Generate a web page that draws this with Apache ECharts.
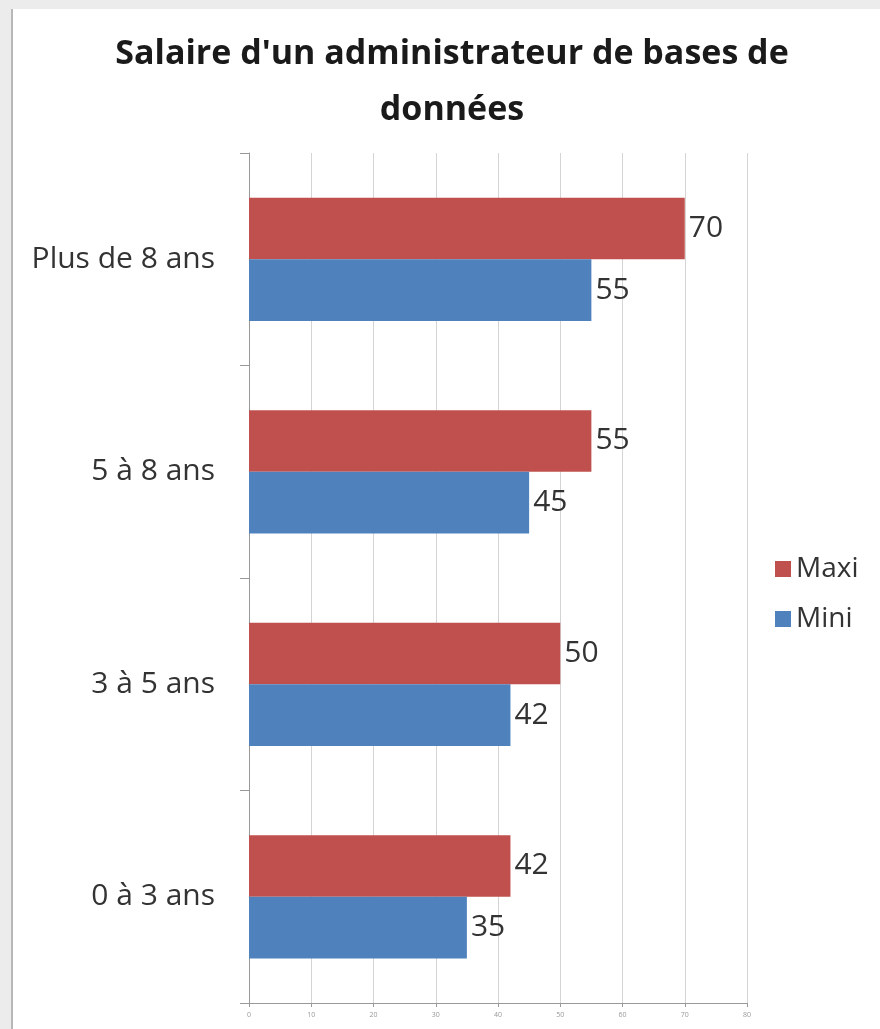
<!DOCTYPE html>
<html>
<head>
<meta charset="utf-8">
<script src="https://cdn.jsdelivr.net/npm/echarts@6/dist/echarts.min.js"></script>
<style>
    html, body { margin: 0; padding: 0; background: #ececec; }
    #chart { position: absolute; left: 11px; top: 9px; width: 869px; height: 1020px; background: #fff; border-left: 2px solid #b8b8b8; }
</style>
</head>
<body>
<div id="chart"></div>
<script>
// salaire (k€) par ancienneté
let categories = ['0 à 3 ans', '3 à 5 ans', '5 à 8 ans', 'Plus de 8 ans'];
let maxi = [42, 50, 55, 70];
let mini = [35, 42, 45, 55];

let myChart = echarts.init(document.getElementById('chart'));
let font = '"Open Sans", "Noto Sans", sans-serif';
let option = {
    textStyle: { fontFamily: font },
    title: {
        text: "Salaire d'un administrateur de bases de\ndonnées",
        left: 434,
        textAlign: 'center',
        top: 12,
        textStyle: {
            fontFamily: font,
            fontSize: 34,
            fontWeight: 'bold',
            color: '#1a1a1a',
            lineHeight: 56
        }
    },
    legend: {
        orient: 'vertical',
        left: 757,
        top: 541,
        itemWidth: 16,
        itemHeight: 16,
        itemGap: 22,
        icon: 'rect',
        data: ['Maxi', 'Mini'],
        textStyle: { fontFamily: font, fontSize: 28, color: '#333' }
    },
    grid: { left: 236, top: 144, width: 498, height: 850 },
    xAxis: {
        type: 'value',
        min: 0,
        max: 80,
        interval: 10,
        axisLine: { show: true, lineStyle: { color: '#999' } },
        axisTick: { show: true, length: 4, lineStyle: { color: '#999' } },
        axisLabel: { fontSize: 7, color: '#999', margin: 8 },
        splitLine: { show: true, lineStyle: { color: '#d4d4d4' } }
    },
    yAxis: {
        type: 'category',
        data: categories,
        axisLine: { show: true, lineStyle: { color: '#999' } },
        axisTick: { show: true, length: 9, lineStyle: { color: '#999' } },
        axisLabel: { fontSize: 30, color: '#333', margin: 34 }
    },
    series: [
        {
            name: 'Maxi',
            type: 'bar',
            data: maxi,
            barGap: '0%',
            barCategoryGap: '42%',
            itemStyle: { color: '#c0504d' },
            label: { show: true, position: 'right', distance: 4, fontSize: 30, color: '#333' }
        },
        {
            name: 'Mini',
            type: 'bar',
            data: mini,
            barGap: '0%',
            barCategoryGap: '42%',
            itemStyle: { color: '#4f81bd' },
            label: { show: true, position: 'right', distance: 4, fontSize: 30, color: '#333' }
        }
    ]
};
myChart.setOption(option);
</script>
</body>
</html>
